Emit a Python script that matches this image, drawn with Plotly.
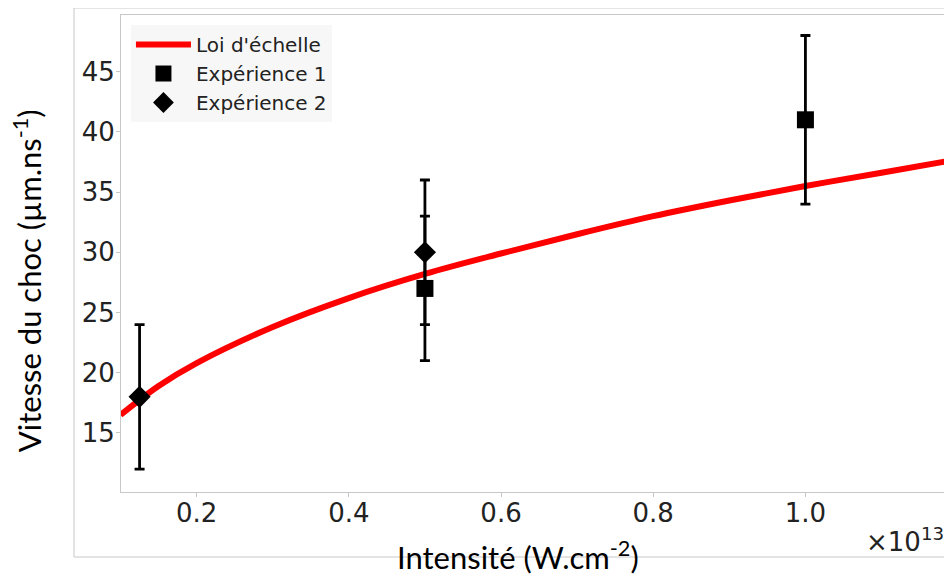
import plotly.graph_objects as go

# Scaling law curve, intensity in W/cm^2
law_x = [1.0e12, 1.5e12, 2.0e12, 3.0e12, 4.0e12, 5.0e12, 6.0e12, 7.0e12, 8.0e12, 9.0e12, 1.0e13, 1.1e13, 1.19e13]
law_y = [16.5, 18.9, 20.8, 23.8, 26.2, 28.2, 29.9, 31.5, 33.0, 34.3, 35.5, 36.6, 37.6]

exp1_x = [5.0e12, 1.0e13]
exp1_y = [27, 41]
exp1_err = [6, 7]

exp2_x = [1.25e12, 5.0e12]
exp2_y = [18, 30]
exp2_err = [6, 6]

x_tickvals = [2e12, 4e12, 6e12, 8e12, 1e13]
x_ticktext = ["0.2", "0.4", "0.6", "0.8", "1.0"]
y_tickvals = [15, 20, 25, 30, 35, 40, 45]

fig = go.Figure()
fig.add_trace(go.Scatter(x=law_x, y=law_y, mode="lines", name="Loi d'échelle",
                         line=dict(color="#ff0000", width=6, shape="spline")))
fig.add_trace(go.Scatter(x=exp1_x, y=exp1_y, mode="markers", name="Expérience 1",
                         marker=dict(symbol="square", size=17, color="black"),
                         error_y=dict(type="data", array=exp1_err, color="black", thickness=2.8, width=5)))
fig.add_trace(go.Scatter(x=exp2_x, y=exp2_y, mode="markers", name="Expérience 2",
                         marker=dict(symbol="diamond", size=17, color="black"),
                         error_y=dict(type="data", array=exp2_err, color="black", thickness=2.8, width=5)))

axis_common = dict(showgrid=False, zeroline=False, showline=True, linecolor="#c8c8c8", linewidth=1,
                   mirror=True, ticks="outside", ticklen=4, tickcolor="#c8c8c8", automargin=False,
                   tickfont=dict(family="DejaVu Sans", size=26, color="#222222"))

fig.update_layout(
    width=944, height=568,
    margin=dict(l=113, r=2, t=7, b=84),
    paper_bgcolor="white", plot_bgcolor="white",
    xaxis=dict(range=[1.006e12, 1.19e13], tickvals=x_tickvals, ticktext=x_ticktext,
               ticklabelstandoff=-6, **axis_common),
    yaxis=dict(range=[10.1, 49.7], tickvals=y_tickvals, ticklabelstandoff=-4, **axis_common),
    showlegend=True,
    legend=dict(x=0.012, y=0.979, xanchor="left", yanchor="top", bgcolor="#f7f7f7",
                font=dict(family="DejaVu Sans", size=20, color="#222222"),
                borderwidth=0, itemsizing="trace", itemwidth=55, tracegroupgap=0),
    shapes=[dict(type="rect", xref="paper", yref="paper", x0=-0.0567, x1=1.02, y0=-0.1363, y1=1.0147,
                 line=dict(color="#c8c8c8", width=1), layer="below")],
    annotations=[
        dict(text="Vitesse du choc (µm.ns<sup>-1</sup>)", xref="paper", yref="paper",
             x=-0.1134, y=0.444, textangle=-90, showarrow=False, xanchor="center", yanchor="middle",
             font=dict(family="Lato", size=31, color="black")),
        dict(text="Intensité (W.cm<sup>-2</sup>)", xref="paper", yref="paper",
             x=0.479, y=-0.134, showarrow=False, xanchor="center", yanchor="middle",
             font=dict(family="Lato", size=31, color="black")),
        dict(text="×10<sup>13</sup>", xref="paper", yref="paper",
             x=0.9952, y=-0.1006, showarrow=False, xanchor="right", yanchor="middle",
             font=dict(family="DejaVu Sans", size=26, color="#222222")),
    ],
)

fig.write_html("out.html")
